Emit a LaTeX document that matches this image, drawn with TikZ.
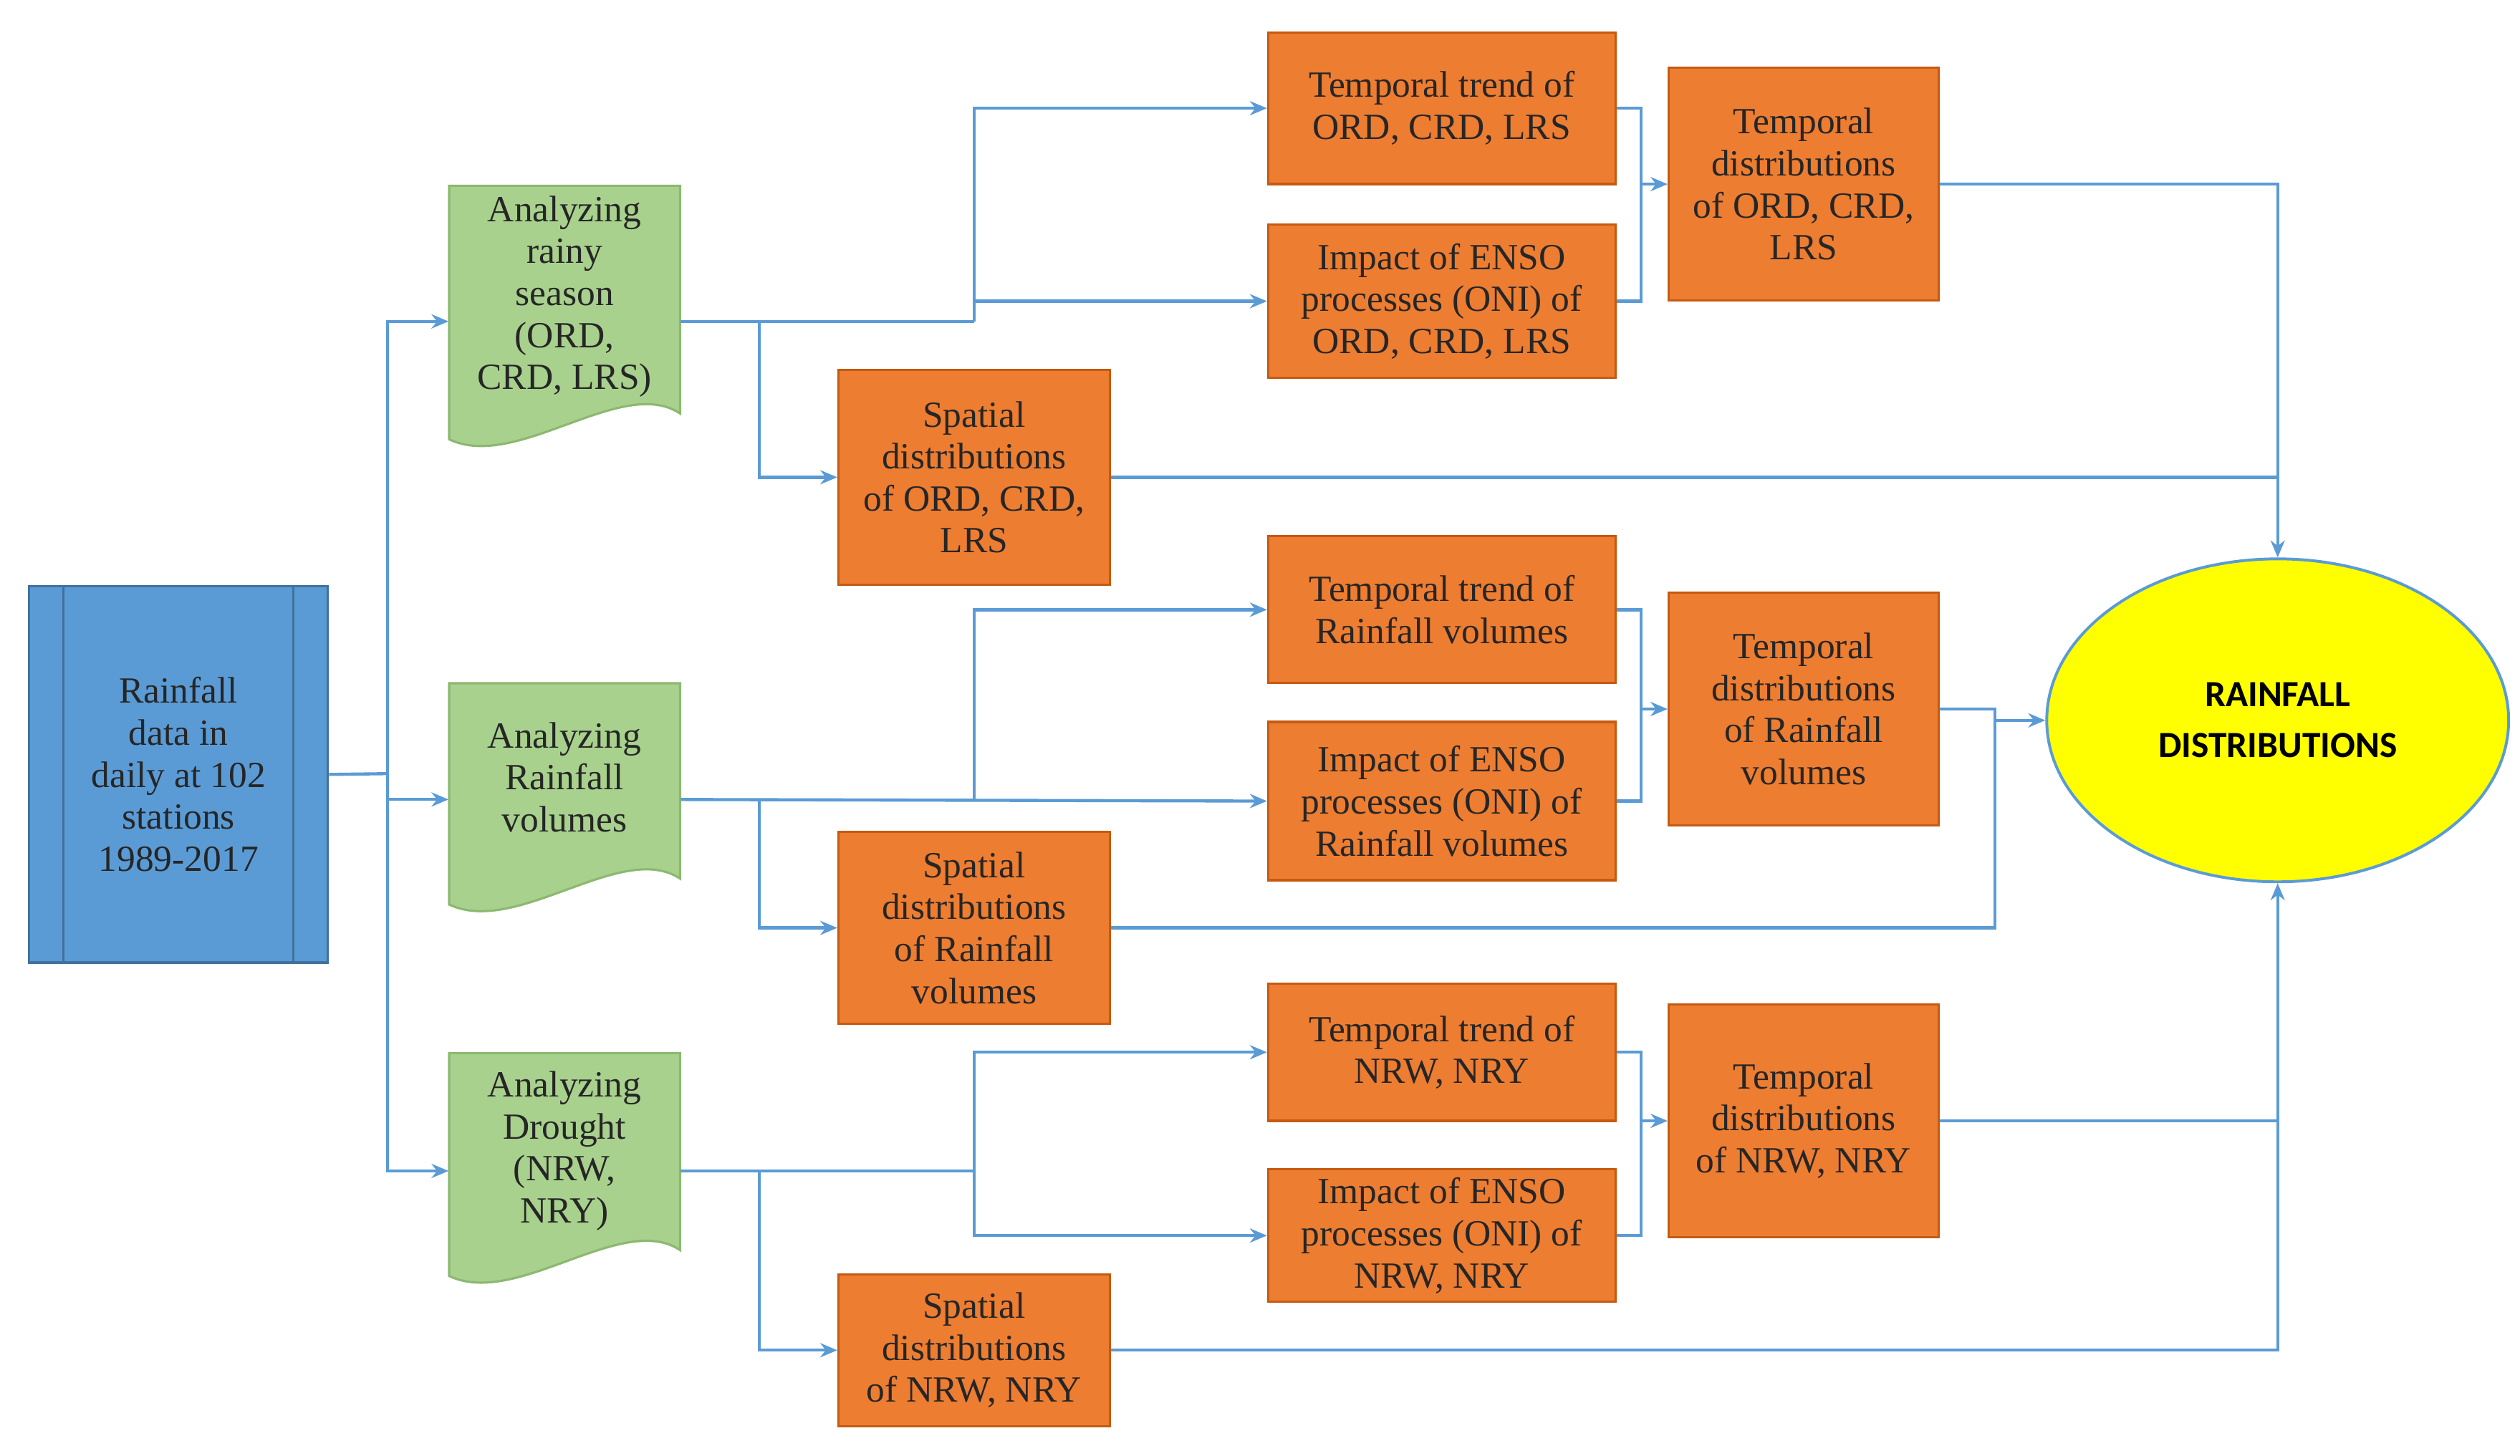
\documentclass[tikz,border=0pt]{standalone}
\usepackage{fontspec}
\setmainfont{Liberation Serif}
\newfontfamily\sansb{Carlito}
\usetikzlibrary{calc,shapes.geometric,arrows.meta}
\definecolor{lblue}{HTML}{5B9BD5}
\definecolor{dblue}{HTML}{41719C}
\definecolor{org}{HTML}{ED7D31}
\definecolor{dorg}{HTML}{C55A11}
\definecolor{grn}{HTML}{A9D18E}
\definecolor{dgrn}{HTML}{8CB870}
\definecolor{yel}{HTML}{FFFF00}
\begin{document}
\begin{tikzpicture}[x=0.02cm,y=-0.02cm,
  txt/.style={font=\fontsize{13}{14.8}\selectfont,align=center,text=black!85},
  ob/.style={txt,rectangle,fill=org,draw=dorg,line width=0.8pt,inner sep=2pt},
  gn/.style={txt,rectangle,minimum width=2.86cm,anchor=north,inner sep=0pt},
  ln/.style={draw=lblue,line width=1.1pt},
  ar/.style={ln,-{Stealth[length=6pt,width=5pt]}}]
\useasboundingbox (0,0) rectangle (1560,901.5);
% source
\node[txt,rectangle,fill=lblue,draw=dblue,line width=0.8pt,minimum width=3.7cm,minimum height=4.66cm] (R) at (110.5,479.5) {Rainfall\\data in\\daily at 102\\stations\\1989-2017};
\draw[dblue,line width=0.8pt] ($(R.north west)+(0.44cm,0)$) -- ($(R.south west)+(0.44cm,0)$);
\draw[dblue,line width=0.8pt] ($(R.north east)+(-0.44cm,0)$) -- ($(R.south east)+(-0.44cm,0)$);
% document shapes
\newcommand{\docsh}[3]{% name, top y, bottom y
  \fill[grn,draw=dgrn,line width=0.8pt] (278,#2) -- (421,#2) -- (421,#3-16)
   .. controls (385,#3-40) and (320,#3+20) .. (278,#3) -- cycle;}
\docsh{G1}{115}{272}
\docsh{G2}{423}{560}
\docsh{G3}{652}{790}
\node[txt,minimum width=2.86cm,minimum height=3.36cm] (G1) at (349.5,199) {};
\node[txt,anchor=north] at (349.5,115) {Analyzing\\rainy\\season\\(ORD,\\CRD, LRS)};
\node[txt,minimum width=2.86cm,minimum height=2.88cm] (G2) at (349.5,495) {};
\node[txt,anchor=north] at (349.5,441) {Analyzing\\Rainfall\\volumes};
\node[txt,minimum width=2.86cm,minimum height=2.92cm] (G3) at (349.5,725) {};
\node[txt,anchor=north] at (349.5,657) {Analyzing\\Drought\\(NRW,\\NRY)};
% orange boxes
\node[ob,minimum width=4.3cm,minimum height=1.88cm] (T1) at (892.5,67) {Temporal trend of\\ORD, CRD, LRS};
\node[ob,minimum width=4.3cm,minimum height=1.9cm] (I1) at (892.5,186.5) {Impact of ENSO\\processes (ONI) of\\ORD, CRD, LRS};
\node[ob,minimum width=3.34cm,minimum height=2.88cm] (D1) at (1116.5,114) {Temporal\\distributions\\of ORD, CRD,\\LRS};
\node[ob,minimum width=3.36cm,minimum height=2.66cm] (S1) at (603,295.5) {Spatial\\distributions\\of ORD, CRD,\\LRS};
\node[ob,minimum width=4.3cm,minimum height=1.82cm] (T2) at (892.5,377.5) {Temporal trend of\\Rainfall volumes};
\node[ob,minimum width=4.3cm,minimum height=1.96cm] (I2) at (892.5,496) {Impact of ENSO\\processes (ONI) of\\Rainfall volumes};
\node[ob,minimum width=3.34cm,minimum height=2.88cm] (D2) at (1116.5,439) {Temporal\\distributions\\of Rainfall\\volumes};
\node[ob,minimum width=3.36cm,minimum height=2.38cm] (S2) at (603,574.5) {Spatial\\distributions\\of Rainfall\\volumes};
\node[ob,minimum width=4.3cm,minimum height=1.7cm] (T3) at (892.5,651.5) {Temporal trend of\\NRW, NRY};
\node[ob,minimum width=4.3cm,minimum height=1.64cm] (I3) at (892.5,765) {Impact of ENSO\\processes (ONI) of\\NRW, NRY};
\node[ob,minimum width=3.34cm,minimum height=2.88cm] (D3) at (1116.5,694) {Temporal\\distributions\\of NRW, NRY};
\node[ob,minimum width=3.36cm,minimum height=1.88cm] (S3) at (603,836) {Spatial\\distributions\\of NRW, NRY};
% ellipse
\node[ellipse,fill=yel,draw=lblue,line width=1pt,minimum width=5.72cm,minimum height=4.0cm,align=center,font=\sansb\bfseries\fontsize{13}{18}\selectfont] (E) at (1410,446) {RAINFALL\\DISTRIBUTIONS};
% left connectors
\coordinate (r) at (240,479);
\draw[ln] (R.east) -- (r);
\draw[ar] (r) |- (G1.west);
\draw[ar] (r) |- (G2.west);
\draw[ar] (r) |- (G3.west);
% group 1
\coordinate (a1) at (470,199); \coordinate (b1) at (603,199); \coordinate (m1) at (1016,114);
\draw[ln] (G1.east) -- (b1);
\draw[ar] (b1) |- (I1.west);
\draw[ar] (b1) |- (T1.west);
\draw[ar] (a1) |- (S1.west);
\draw[ln] (T1.east) -| (m1);
\draw[ln] (I1.east) -| (m1);
\draw[ar] (m1) -- (D1.west);
\draw[ar] (D1.east) -| (E.north);
\draw[ln] (S1.east) -- (S1.east -| E.north);
% group 2
\coordinate (a2) at (470,495); \coordinate (b2) at (603,495); \coordinate (m2) at (1016,439); \coordinate (c2) at (1235,446);
\draw[ar] (G2.east) -- (I2.west);
\draw[ar] (b2) |- (T2.west);
\draw[ar] (a2) |- (S2.west);
\draw[ln] (T2.east) -| (m2);
\draw[ln] (I2.east) -| (m2);
\draw[ar] (m2) -- (D2.west);
\draw[ln] (D2.east) -| (c2);
\draw[ln] (S2.east) -| (c2);
\draw[ar] (c2) -- (E.west);
% group 3
\coordinate (a3) at (470,725); \coordinate (b3) at (603,725); \coordinate (m3) at (1016,694);
\draw[ln] (G3.east) -- (b3);
\draw[ar] (b3) |- (T3.west);
\draw[ar] (b3) |- (I3.west);
\draw[ar] (a3) |- (S3.west);
\draw[ln] (T3.east) -| (m3);
\draw[ln] (I3.east) -| (m3);
\draw[ar] (m3) -- (D3.west);
\draw[ln] (D3.east) -- (D3.east -| E.south);
\draw[ar] (S3.east) -| (E.south);
\end{tikzpicture}
\end{document}
